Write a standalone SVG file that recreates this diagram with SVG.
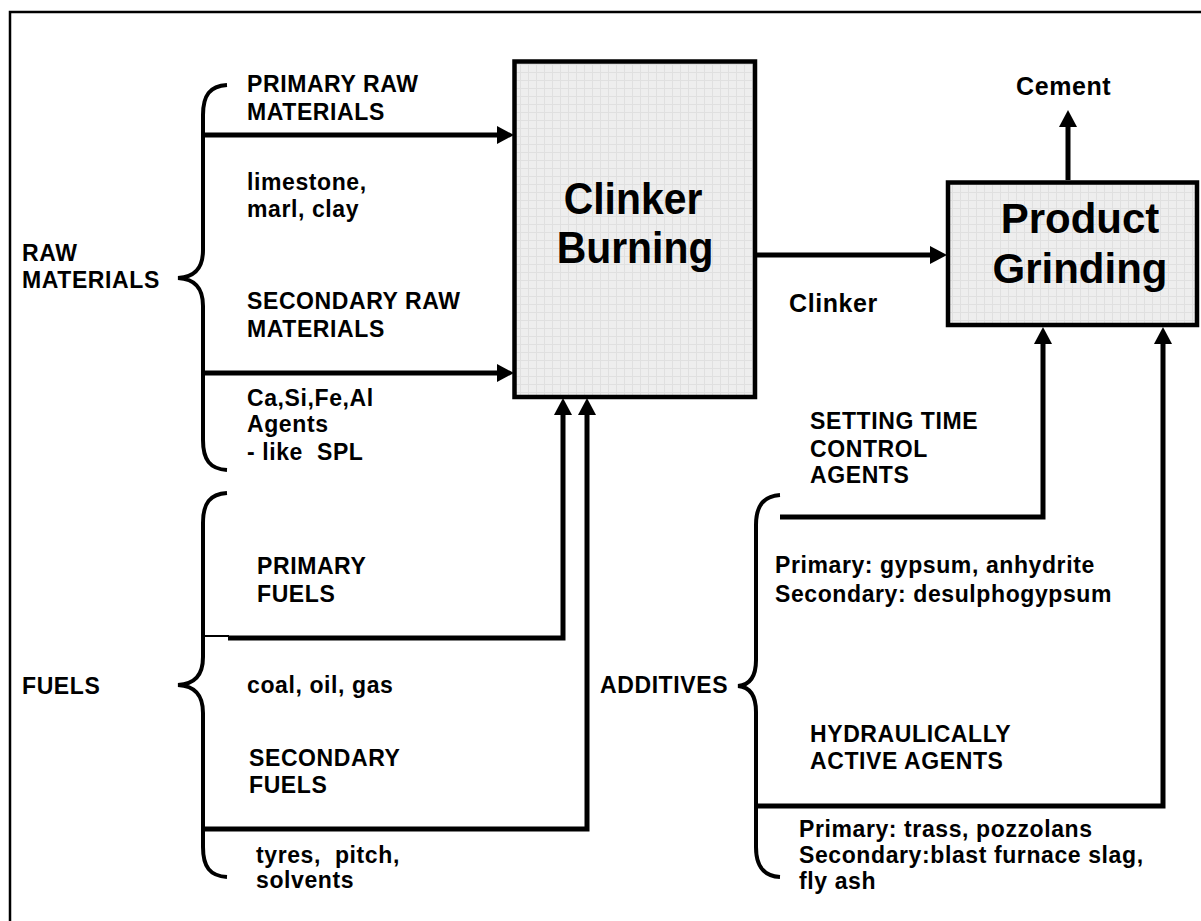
<svg xmlns="http://www.w3.org/2000/svg" width="1201" height="921" viewBox="0 0 1201 921">
<style>
.t{font-family:"Liberation Sans",Arial,sans-serif;font-weight:bold;font-size:23px;letter-spacing:0.6px;fill:#000}
.big{font-family:"Liberation Sans",Arial,sans-serif;font-weight:bold;fill:#000}
.ln{fill:none;stroke:#000;stroke-width:5;stroke-linejoin:miter;stroke-linecap:butt}
.br{fill:none;stroke:#000;stroke-width:4}
.box{fill:url(#grid);stroke:#000;stroke-width:4.5}
</style>
<defs>
<pattern id="grid" width="8" height="8" patternUnits="userSpaceOnUse">
<rect width="8" height="8" fill="#eeeeee"/>
<path d="M0,0.5H8M0.5,0V8" stroke="#e0e0e0" stroke-width="1"/>
</pattern>
<marker id="ah" markerUnits="userSpaceOnUse" markerWidth="18" markerHeight="18" refX="5" refY="9" orient="auto" viewBox="0 0 18 18">
<path d="M0,0 L17,9 L0,18 Z" fill="#000"/>
</marker>
</defs>
<rect width="1201" height="921" fill="#fff"/>
<path d="M10,921 V12 H1201" fill="none" stroke="#000" stroke-width="2.5"/>

<g id="clinker-burning">
<rect class="box" x="514.5" y="61.5" width="240.5" height="335.5"/>
<text class="big" font-size="44" text-anchor="middle" transform="translate(633,214) scale(0.93,1)">Clinker</text>
<text class="big" font-size="44" text-anchor="middle" transform="translate(635,263) scale(0.93,1)">Burning</text>
</g>

<g id="product-grinding">
<rect class="box" x="948" y="182.5" width="249" height="142.5"/>
<text class="big" font-size="42" text-anchor="middle" x="1080" y="233">Product</text>
<text class="big" font-size="42" text-anchor="middle" x="1080" y="283">Grinding</text>
</g>

<g id="raw-materials">
<path class="br" d="M227,85 C210,86 203,95 203,115 L203,250 C203,268 195,277 178,278 C195,279 203,288 203,306 L203,440 C203,460 210,469 227,470"/>
<text class="t" x="22" y="261">RAW</text>
<text class="t" x="22" y="288">MATERIALS</text>
<text class="t" x="247" y="92">PRIMARY RAW</text>
<text class="t" x="247" y="120">MATERIALS</text>
<text class="t" x="247" y="190">limestone,</text>
<text class="t" x="247" y="217">marl, clay</text>
<text class="t" x="247" y="309">SECONDARY RAW</text>
<text class="t" x="247" y="337">MATERIALS</text>
<text class="t" x="247" y="406">Ca,Si,Fe,Al</text>
<text class="t" x="247" y="432">Agents</text>
<text class="t" x="247" y="460" xml:space="preserve">- like  SPL</text>
</g>

<g id="fuels">
<path class="br" d="M227,493 C210,494 203,503 203,523 L203,657 C203,675 195,684 178,685 C195,686 203,695 203,713 L203,847 C203,867 210,876 227,877"/>
<text class="t" x="22" y="694">FUELS</text>
<text class="t" x="257" y="574">PRIMARY</text>
<text class="t" x="257" y="602">FUELS</text>
<text class="t" x="247" y="693">coal, oil, gas</text>
<text class="t" x="249" y="766">SECONDARY</text>
<text class="t" x="249" y="793">FUELS</text>
<text class="t" x="256" y="863" xml:space="preserve">tyres,  pitch,</text>
<text class="t" x="256" y="888">solvents</text>
</g>

<g id="additives">
<path class="br" d="M780,495 C764,496 756,505 756,525 L756,660 C756,677 750,685 738,686 C750,687 756,695 756,712 L756,847 C756,867 764,876 780,877"/>
<text class="t" x="600" y="693">ADDITIVES</text>
<text class="t" x="810" y="429">SETTING TIME</text>
<text class="t" x="810" y="457">CONTROL</text>
<text class="t" x="810" y="483">AGENTS</text>
<text class="t" x="775" y="573">Primary: gypsum, anhydrite</text>
<text class="t" x="775" y="602">Secondary: desulphogypsum</text>
<text class="t" x="810" y="742">HYDRAULICALLY</text>
<text class="t" x="810" y="769">ACTIVE AGENTS</text>
<text class="t" x="799" y="837">Primary: trass, pozzolans</text>
<text class="t" x="799" y="863">Secondary:blast furnace slag,</text>
<text class="t" x="799" y="889">fly ash</text>
</g>

<g id="labels">
<text class="t" x="789" y="312" style="font-size:25px">Clinker</text>
<text class="t" x="1016" y="95" style="font-size:25px">Cement</text>
</g>

<g id="connectors">
<path class="ln" d="M203,135 H502" marker-end="url(#ah)"/>
<path class="ln" d="M203,373 H502" marker-end="url(#ah)"/>
<path d="M203,636 H229" stroke="#000" stroke-width="2"/>
<path class="ln" d="M228,638 H563 V410" marker-end="url(#ah)"/>
<path class="ln" d="M203,829 H587 V410" marker-end="url(#ah)"/>
<path class="ln" d="M757,255 H935" marker-end="url(#ah)"/>
<path class="ln" d="M1068,180 V122" marker-end="url(#ah)"/>
<path class="ln" d="M780,517 H1043 V339" marker-end="url(#ah)"/>
<path class="ln" d="M756,806 H1163 V339" marker-end="url(#ah)"/>
</g>
</svg>
